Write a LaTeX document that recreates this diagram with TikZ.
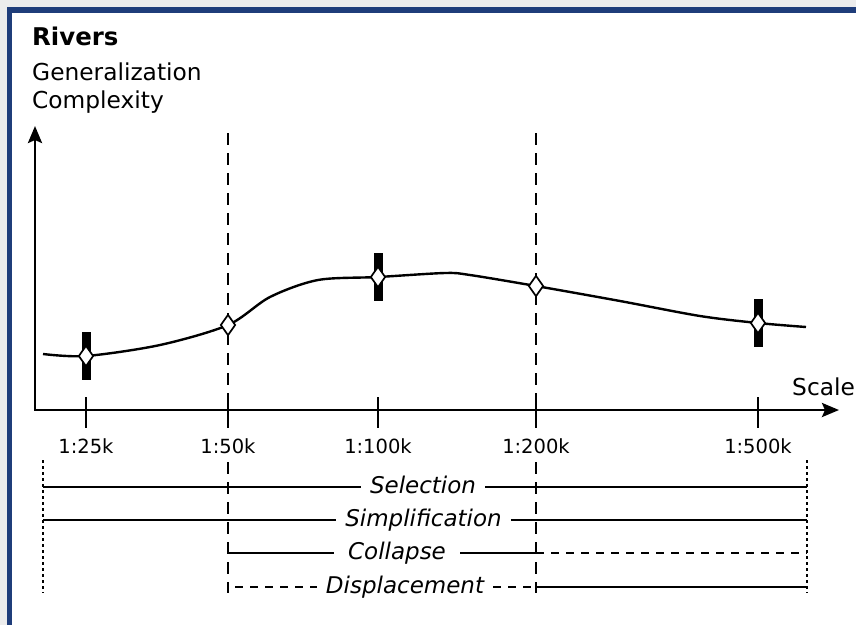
\documentclass[tikz,border=0pt]{standalone}
\usepackage{fontspec}
\setmainfont{DejaVu Sans}
\usetikzlibrary{arrows.meta,shapes.geometric}
\definecolor{frameblue}{RGB}{31,61,122}
\definecolor{pagegray}{RGB}{236,236,236}
\begin{document}
\begin{tikzpicture}[x=1pt,y=-1pt,
		diam/.style={diamond,draw,fill=white,line width=1.7pt,minimum width=15pt,minimum height=21pt,inner sep=0pt},
		bar/.style={fill=black,minimum width=9pt,minimum height=48pt,inner sep=0pt},
		lbl/.style={font=\fontsize{19.5}{22}\selectfont,anchor=base,inner sep=0pt},
		op/.style={font=\fontsize{23}{26}\selectfont\itshape,inner xsep=9pt,inner ysep=0pt,text height=13pt,text depth=0pt},
		vdash/.style={line width=2.2pt,dash pattern=on 12pt off 8pt},
		rowdash/.style={line width=2.5pt,dash pattern=on 8pt off 7pt},
		rowline/.style={line width=2.5pt}]
			\useasboundingbox (0,0) rectangle (856,625);
			\fill[pagegray] (0,0) rectangle (856,625);
			\fill[frameblue] (7,7) rectangle (856,625);
			\fill[white] (12,13) rectangle (856,625);
			
			\node[anchor=base west,inner sep=0pt,font=\fontsize{24.4}{28}\selectfont\bfseries] (T) at (32,45) {Rivers};
			\node[anchor=base west,inner sep=0pt,font=\fontsize{23.3}{28}\selectfont] (G) at (32,80) {Generalization};
			\node[anchor=base west,inner sep=0pt,font=\fontsize{23.3}{28}\selectfont] (C) at (32,108) {Complexity};
			\node[anchor=base west,inner sep=0pt,font=\fontsize{23.3}{28}\selectfont] (S) at (792,395) {Scale};
			
			\coordinate (Y) at (35,126);
			\coordinate (O) at (35,410);
			\coordinate (X) at (839,410);
			\draw[line width=2.8pt,{Stealth[length=17pt,width=14pt,inset=3pt]}-{Stealth[length=17pt,width=14pt,inset=3pt]}] (Y) -- (O) -- (X);
			
			\foreach \x/\s in {86/25,228/50,378/100,536/200,758/500}{
				\draw[line width=2.4pt] (\x,397) -- (\x,428);
				\node[lbl] (l\s) at (\x,453) {1:\s k};
			}
			\foreach \x in {228,536}{
				\draw[vdash] (\x,133) -- (\x,397);
				\draw[vdash] (\x,462) -- (\x,593);
			}
			
			\coordinate (c0) at (43,354);
			\coordinate (A) at (86,356);
			\coordinate (B) at (228,325);
			\coordinate (D) at (378,277);
			\coordinate (E) at (536,286);
			\coordinate (F) at (758,323);
			\coordinate (c1) at (806,327);
			\draw[line width=2.4pt] plot[smooth,tension=0.5] coordinates {(c0) (A) (160,345) (B) (270,297) (318,280) (D) (445,273) (470,275) (E) (620,301) (700,316) (F) (c1)};
			\node[bar] (bA) at (A) {};
			\node[bar] (bD) at (D) {};
			\node[bar] (bF) at (F) {};
			\foreach \p in {A,B,D,E,F}
				\node[diam] (d\p) at (\p) {};
			
			\draw[line width=2.6pt,dash pattern=on 3pt off 3pt] (43,460) -- (43,593);
			\draw[line width=2.6pt,dash pattern=on 3pt off 3pt] (807,460) -- (807,593);
			
			\coordinate (s0) at (43,487);
			\coordinate (s1) at (807,487);
			\coordinate (m0) at (43,520);
			\coordinate (m1) at (807,520);
			\coordinate (k0) at (228,553);
			\coordinate (k2) at (536,553);
			\coordinate (k1) at (807,553);
			\coordinate (p0) at (228,587);
			\coordinate (p2) at (536,587);
			\coordinate (p1) at (807,587);
			\node[op] (sel) at (423,487) {Selection};
			\node[op] (sim) at (423.5,520) {Simplification};
			\node[op,inner xsep=14pt] (col) at (397,553) {Collapse};
			\node[op] (dis) at (405,587) {Displacement};
			\draw[rowline] (s0) -- (sel.west);
			\draw[rowline] (sel.east) -- (s1);
			\draw[rowline] (m0) -- (sim.west);
			\draw[rowline] (sim.east) -- (m1);
			\draw[rowline] (k0) -- (col.west);
			\draw[rowline] (col.east) -- (k2);
			\draw[rowdash] (k2) -- (k1);
			\draw[rowdash,dash phase=8pt] (p0) -- (dis.west);
			\draw[rowdash] (dis.east) -- (p2);
			\draw[rowline] (p2) -- (p1);
			
		\end{tikzpicture}
\end{document}
